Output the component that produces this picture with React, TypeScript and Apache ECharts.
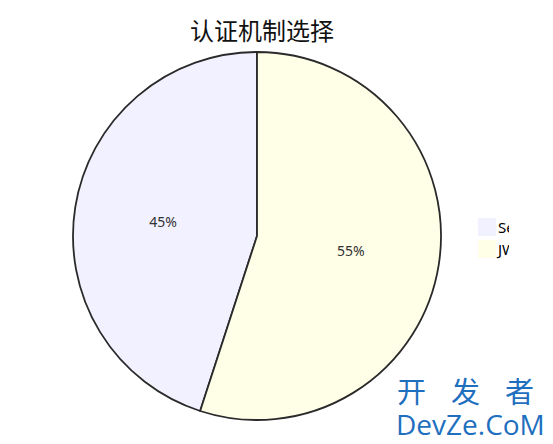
import { useEffect, useRef } from "react";
import * as echarts from "echarts";

const title = "认证机制选择";
const names = ["Session", "JWT"];
const values = [45, 55];
const colors = ["#f1f1ff", "#ffffe8"];
const markChars = ["开", "发", "者"];
const markSite = "DevZe.CoM";

export default function App() {
  const ref = useRef<HTMLDivElement>(null);

  useEffect(() => {
    if (!ref.current) return;
    const chart = echarts.init(ref.current, undefined, { renderer: "svg" });
    chart.setOption({
      animation: false,
      title: {
        text: title,
        left: 249,
        textAlign: "center",
        top: 4,
        textStyle: {
          fontFamily: "Noto Sans CJK SC",
          fontSize: 24,
          fontWeight: "normal",
          color: "#111",
        },
      },
      legend: {
        orient: "vertical",
        left: 465,
        top: 205,
        itemWidth: 18,
        itemHeight: 18,
        itemGap: 4,
        icon: "rect",
        data: names,
        itemStyle: { borderWidth: 0 },
        textStyle: { fontSize: 15, color: "#000", fontFamily: "Noto Sans", padding: [0, 0, 0, -3] },
      },
      series: [
        {
          type: "pie",
          center: [249, 228],
          radius: 184,
          clockwise: false,
          startAngle: 90,
          data: names.map((n, i) => ({
            name: n,
            value: values[i],
            itemStyle: { color: colors[i] },
          })),
          itemStyle: { borderColor: "#2a2a2a", borderWidth: 1.8 },
          label: {
            position: "inside",
            formatter: "{d}%",
            fontSize: 14,
            color: "#333",
            fontFamily: "Noto Sans",
          },
          labelLine: { show: false },
          emphasis: { disabled: true },
        },
      ],
    });
    return () => chart.dispose();
  }, []);

  return (
    <div style={{ position: "relative", width: 545, height: 436 }}>
      <div style={{ width: 501, height: 436, overflow: "hidden" }}>
        <div ref={ref} style={{ width: 545, height: 436 }} />
      </div>
      <div
        style={{
          position: "absolute",
          left: 388,
          top: 368,
          width: 157,
          whiteSpace: "nowrap",
          color: "#1f6fbf",
          fontFamily: "Noto Sans CJK SC",
          lineHeight: 1,
        }}
      >
        <div style={{ fontSize: 29, paddingLeft: 1, height: 31 }}>
          {markChars.map((c, i) => (
            <span
              key={c}
              style={{ display: "inline-block", marginRight: i < markChars.length - 1 ? 25 : 0 }}
            >
              {c}
            </span>
          ))}
        </div>
        <div style={{ fontSize: 28, marginTop: 3, fontFamily: "Open Sans" }}>{markSite}</div>
      </div>
    </div>
  );
}
